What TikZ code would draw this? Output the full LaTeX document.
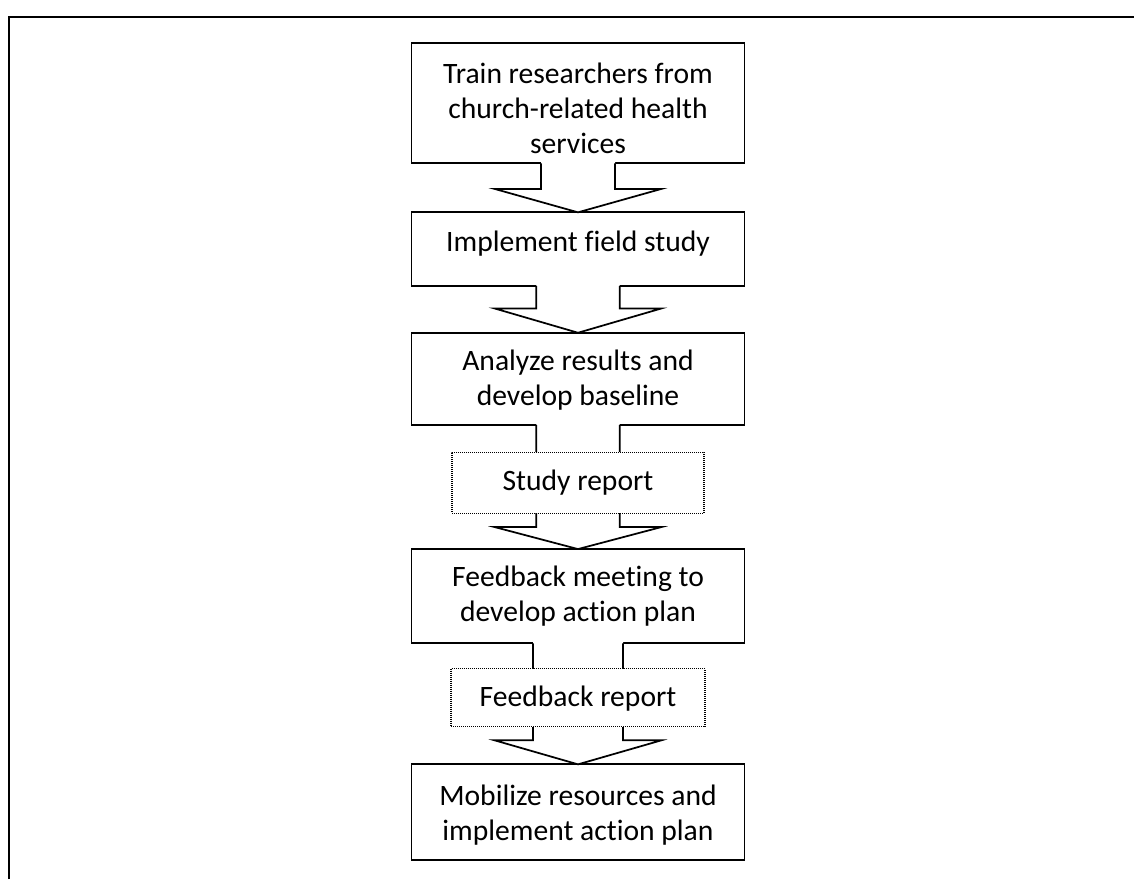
\documentclass[tikz,border=0pt]{standalone}
\usepackage{fontspec}
\setmainfont{Carlito}[Ligatures=NoCommon]
\usetikzlibrary{calc}
\newcommand\stepfont{\fontsize{22.2}{26.25}\selectfont}
\newcommand\lines[1]{\begin{tabular}[t]{@{}c@{}}#1\end{tabular}}
% block arrow from the bottom of one box to the top of the next
% #1 upper node, #2 lower node, #3 half stem width, #4 head height, #5 name
\newcommand\flowarrow[5]{%
  \coordinate (#5-l) at ($(#1.south)+(-#3,0)$);
  \coordinate (#5-r) at ($(#1.south)+(#3,0)$);
  \coordinate (#5-fl) at ($(#2.north)+(-83.3,-#4)$);
  \coordinate (#5-fr) at ($(#2.north)+(83.3,-#4)$);
  \fill[white] ($(#5-l)+(0,-2)$) -- (#5-l |- #5-fl) -- (#5-fl) -- (#2.north)
     -- (#5-fr) -- (#5-r |- #5-fr) -- ($(#5-r)+(0,-2)$) -- cycle;
  \draw[arrowline] (#5-l) -- (#5-l |- #5-fl) -- (#5-fl) -- (#2.north)
     -- (#5-fr) -- (#5-r |- #5-fr) -- (#5-r);
}
\begin{document}
\begin{tikzpicture}[x=0.75pt,y=-0.75pt,
  stepbox/.style={draw, line width=1.3pt, outer sep=0pt, inner sep=0pt,
    minimum width=249.75pt},
  reportbox/.style={draw, fill=white, line width=0.8pt,
    dash pattern=on 0.75pt off 0.75pt, outer sep=0pt, inner sep=0pt},
  arrowline/.style={line width=1.3pt, line join=miter},
  txt/.style={anchor=base, inner sep=0pt, font=\stepfont}]
\useasboundingbox (0,0) rectangle (1134,879);

% page frame (top and left edges)
\draw[line width=1.6pt] (8.7,879) -- (8.7,16.7) -- (1134,16.7);

% process steps
\node[stepbox, minimum height=90pt]   (b1) at (578,103.3) {};
\node[stepbox, minimum height=55.3pt] (b2) at (578,249.2) {};
\node[stepbox, minimum height=69.2pt] (b3) at (578,378.9) {};
\node[stepbox, minimum height=70.7pt] (b4) at (578,596.2) {};
\node[stepbox, minimum height=71.8pt] (b5) at (578,812.2) {};

% arrows between steps
\flowarrow{b1}{b2}{37}{23.4}{a1}
\flowarrow{b2}{b3}{41.7}{24.3}{a2}
\flowarrow{b3}{b4}{41.7}{22}{a3}
\flowarrow{b4}{b5}{45}{24}{a4}

% reports produced along the way
\node[reportbox, minimum width=189pt, minimum height=45.75pt] (r1) at (578,482.8) {};
\node[reportbox, minimum width=190.5pt, minimum height=43.5pt] (r2) at (578,697.5) {};

% texts
\node[txt] (t1) at (578,83.3) {\lines{Train researchers from\\church-related health\\services}};
\node[txt] (t2) at (578,251.7) {Implement field study};
\node[txt] (t3) at (578,370) {\lines{Analyze results and\\develop baseline}};
\node[txt] (t4) at (578,490.7) {Study report};
\node[txt] (t5) at (578,586.7) {\lines{Feedback meeting to\\develop action plan}};
\node[txt] (t6) at (578,706.7) {Feedback report};
\node[txt] (t7) at (578,805) {\lines{Mobilize resources and\\implement action plan}};
\end{tikzpicture}
\end{document}
